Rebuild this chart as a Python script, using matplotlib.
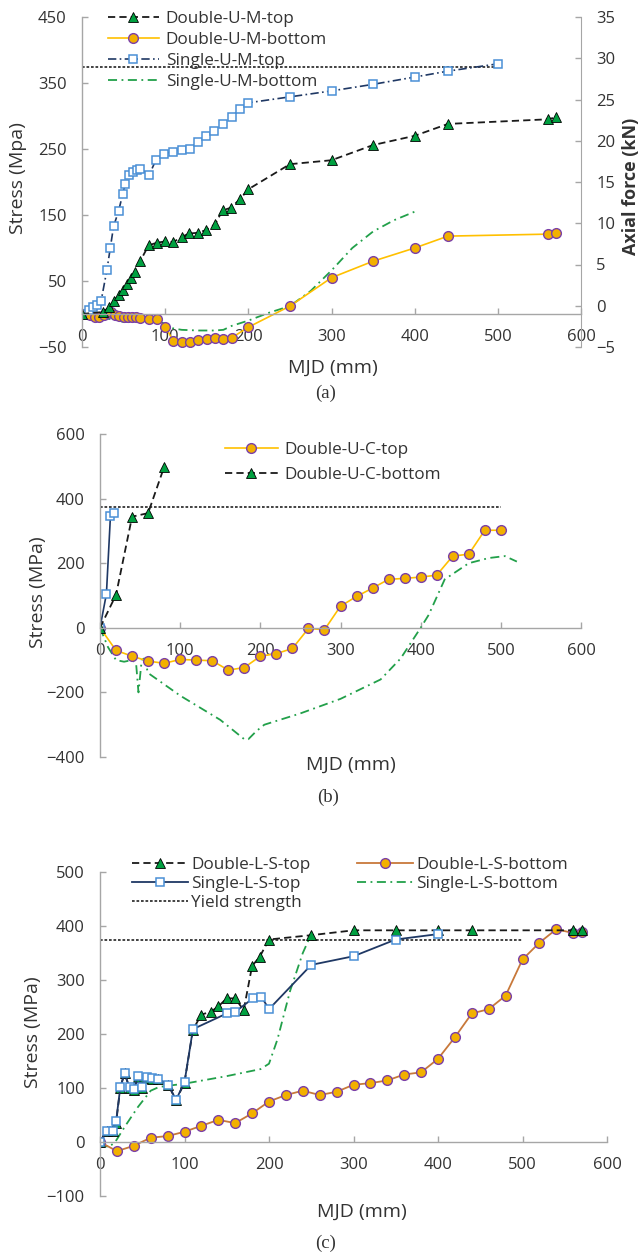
import matplotlib
matplotlib.use("Agg")
import matplotlib.pyplot as plt
from matplotlib.lines import Line2D

plt.rcParams["font.family"] = ["Open Sans", "DejaVu Sans"]

# ---------------- data, panel (a) ----------------
a_dt_x = [0, 25, 33, 38, 44, 49, 54, 59, 64, 70, 80, 90, 100, 110, 120, 129, 139, 149, 160, 169, 179, 190, 200,
          250, 300, 350, 400, 440, 560, 570]
a_dt_y = [0, 3, 10, 19, 29, 37, 45, 54, 64, 80, 104, 108, 110, 109, 117, 122, 123, 127, 136, 157, 161, 174, 189,
          227, 233, 256, 270, 288, 295, 298]

a_db_x = [0, 10, 16, 21, 26, 31, 35, 40, 45, 50, 55, 60, 65, 70, 81, 90, 100, 110, 120, 130, 140, 150, 160, 170,
          180, 200, 250, 300, 350, 400, 440, 560, 570]
a_db_y = [0, -2, -4, -5, -2, 1, 3, -1, -3, -4, -5, -5, -5, -6, -8, -8, -19, -41, -43, -43, -40, -38, -37, -38,
          -36, -20, 12, 55, 80, 100, 118, 121, 122]

a_st_x = [0, 8, 13, 18, 23, 30, 34, 38, 44, 49, 52, 56, 61, 66, 70, 81, 89, 99, 109, 120, 130, 139, 149, 159,
          170, 180, 190, 200, 250, 300, 350, 400, 440, 500]
a_st_y = [0, 6, 10, 14, 20, 67, 100, 133, 156, 182, 197, 210, 215, 218, 220, 211, 234, 243, 246, 249, 250, 261,
          269, 278, 288, 299, 310, 320, 329, 338, 348, 359, 368, 379]

a_sb_x = [0, 10, 20, 30, 40, 50, 60, 70, 80, 90, 100, 110, 120, 140, 160, 170, 180, 200, 225, 250, 275, 300, 325,
          350, 375, 400]
a_sb_y = [0, -3, -5, -7, -9, -12, -12, -10, -9, -10, -15, -22, -24, -25, -25, -24, -18, -10, 2, 12, 35, 66, 100,
          125, 142, 155]

# ---------------- data, panel (b) ----------------
b_top_x = [0, 20, 40, 60, 80, 100, 120, 140, 160, 180, 200, 220, 240, 260, 280, 300, 320, 340, 360, 380, 400,
           420, 440, 460, 480, 500]
b_top_y = [0, -70, -88, -103, -110, -98, -100, -102, -131, -123, -88, -80, -64, -2, -6, 67, 97, 123, 150, 153,
           157, 163, 222, 228, 302, 302]

b_bot_x = [0, 20, 40, 60, 80]
b_bot_y = [0, 102, 344, 355, 498]

b_single_x = [0, 8, 13, 17]
b_single_y = [0, 105, 345, 355]

b_green_x = [0, 10, 20, 30, 40, 45, 48, 52, 55, 60, 100, 150, 180, 185, 195, 205, 250, 300, 350, 375, 400, 410,
             430, 460, 485, 505, 520]
b_green_y = [0, -60, -100, -105, -100, -110, -200, -100, -95, -140, -210, -285, -345, -345, -320, -300, -265,
             -220, -160, -95, 0, 40, 150, 200, 216, 222, 205]

# ---------------- data, panel (c) ----------------
c_dt_x = [0, 8, 15, 19, 24, 29, 35, 40, 45, 50, 56, 62, 69, 81, 90, 100, 110, 120, 131, 140, 150, 160, 170, 180,
          189, 200, 250, 300, 350, 400, 440, 560, 570]
c_dt_y = [0, 20, 20, 35, 100, 127, 100, 97, 120, 100, 118, 117, 116, 105, 77, 110, 208, 236, 241, 251, 266, 266,
          244, 326, 343, 375, 383, 392, 392, 392, 392, 392, 392]

c_st_x = [0, 8, 15, 19, 24, 29, 35, 40, 45, 50, 56, 62, 69, 81, 90, 100, 110, 150, 160, 181, 191, 200, 250, 300,
          350, 400]
c_st_y = [0, 21, 21, 38, 101, 128, 101, 98, 122, 101, 120, 119, 117, 106, 78, 111, 209, 238, 241, 266, 269, 246,
          328, 344, 375, 385]

c_db_x = [0, 20, 40, 60, 80, 100, 120, 140, 160, 180, 200, 220, 240, 260, 280, 300, 320, 340, 360, 380, 400, 420,
          440, 460, 480, 500, 520, 540, 560, 570]
c_db_y = [0, -17, -7, 8, 11, 19, 30, 41, 35, 53, 75, 87, 95, 87, 93, 106, 109, 114, 125, 129, 154, 194, 238, 246,
          271, 338, 369, 394, 387, 388]

c_sb_x = [0, 10, 18, 30, 45, 60, 70, 100, 150, 190, 200, 210, 225, 240, 250]
c_sb_y = [0, -10, 0, 30, 65, 95, 102, 108, 122, 135, 145, 190, 280, 350, 385]

yield_x = [0, 500]
yield_y = [375, 375]

# ---------------- styles ----------------
GRAY = "#a6a6a6"
TXT = "#333333"
GREEN_TRI = "#00a040"
ORANGE = "#f2b000"
PURPLE = "#7a3fa8"
LIGHT_OR = "#ffc000"
BROWN = "#c8783a"
BLUE_SQ = "#4a8fd6"
NAVY = "#1f3864"
GREEN_LN = "#22a04a"
TICK_FS = 12
LEG_FS = 12.3
LAB_FS = 14

dash_black = dict(color="#1a1a1a", lw=1.3, ls=(0, (4, 2.3)))
dash_navy = (0, (5, 2, 1, 2))
dash_green = (0, (5, 2.5, 1, 2.5))
dot_yield = dict(color="#222222", lw=1.2, ls=(0, (1.6, 1.1)))

tri = dict(marker="^", ms=6.5, mfc=GREEN_TRI, mec="black", mew=0.6)
circ = dict(marker="o", ms=7, mfc=ORANGE, mec=PURPLE, mew=1.0)
sq = dict(marker="s", ms=6.3, mfc="white", mec=BLUE_SQ, mew=1.1)

W, H = 643, 1255
fig = plt.figure(figsize=(W / 100, H / 100), dpi=100)


def axes_px(left, right, top, bottom):
    return fig.add_axes([left / W, 1 - bottom / H, (right - left) / W, (bottom - top) / H])


def label_px(x, y, text, rot=0, **kw):
    fig.text(x / W, 1 - y / H, text, rotation=rot, rotation_mode="anchor", ha="center", va="center",
             color=TXT, **kw)


def style(ax, xticks, yticks):
    ax.spines["top"].set_visible(False)
    ax.spines["right"].set_visible(False)
    ax.spines["bottom"].set_position(("data", 0))
    for s in ("left", "bottom"):
        ax.spines[s].set_color(GRAY)
        ax.spines[s].set_linewidth(1.0)
    ax.set_xticks(xticks)
    ax.set_yticks(yticks)
    ax.tick_params(direction="in", length=4, width=1, color=GRAY, labelcolor=TXT, labelsize=TICK_FS, pad=11)


# ---------------- (a) ----------------
ax = axes_px(82, 581, 17, 347)
ax.plot(yield_x, yield_y, **dot_yield)
ax.plot(a_sb_x, a_sb_y, color=GREEN_LN, lw=1.3, ls=dash_green)
ax.plot(a_db_x, a_db_y, color=LIGHT_OR, lw=1.2, **circ)
ax.plot(a_st_x, a_st_y, color=NAVY, lw=1.2, ls=dash_navy, **sq)
ax.plot(a_dt_x, a_dt_y, **dash_black, **tri)
ax.set_xlim(0, 600)
ax.set_ylim(-50, 450)
style(ax, range(0, 601, 100), range(-50, 451, 100))

ax2 = ax.twinx()
ax2.set_ylim(-5, 35)
ax2.set_yticks(range(-5, 36, 5))
for s in ("top", "left", "bottom"):
    ax2.spines[s].set_visible(False)
ax2.spines["right"].set_color(GRAY)
ax2.tick_params(direction="in", length=4, width=1, color=GRAY, labelcolor=TXT, labelsize=TICK_FS, pad=11)

label_px(18, 178, "Stress (Mpa)", rot=90, fontsize=LAB_FS)
label_px(631, 186, "Axial force (kN)", rot=90, fontsize=LAB_FS - 1, fontweight="bold")
label_px(333, 368, "MJD (mm)", fontsize=LAB_FS)

hand_a = [Line2D([], [], **dash_black, **tri),
          Line2D([], [], color=LIGHT_OR, lw=1.2, **circ),
          Line2D([], [], color=NAVY, lw=1.2, ls=dash_navy, **sq),
          Line2D([], [], color=GREEN_LN, lw=1.3, ls=dash_green)]
lab_a = ["Double-U-M-top", "Double-U-M-bottom", "Single-U-M-top", "Single-U-M-bottom"]
fig.legend(hand_a, lab_a, loc="upper left", bbox_to_anchor=(99 / W, 1 - 2 / H), frameon=False,
           fontsize=LEG_FS, handlelength=3.0, handletextpad=0.4, labelspacing=0.3, borderpad=0,
           labelcolor=TXT)
label_px(326, 393, "(a)", family="Liberation Serif", fontsize=13.5)

# ---------------- (b) ----------------
bx = axes_px(100, 581, 434, 757)
bx.plot(yield_x, yield_y, **dot_yield)
bx.plot(b_green_x, b_green_y, color=GREEN_LN, lw=1.3, ls=dash_green)
bx.plot(b_top_x, b_top_y, color=LIGHT_OR, lw=1.2, **circ)
bx.plot(b_single_x, b_single_y, color=NAVY, lw=1.2, **sq)
bx.plot(b_bot_x, b_bot_y, **dash_black, **tri)
bx.set_xlim(0, 600)
bx.set_ylim(-400, 600)
style(bx, range(0, 601, 100), range(-400, 601, 200))
label_px(38, 592, "Stress (MPa)", rot=90, fontsize=LAB_FS)
label_px(351, 765, "MJD (mm)", fontsize=LAB_FS)

hand_b = [Line2D([], [], color=LIGHT_OR, lw=1.2, **circ),
          Line2D([], [], **dash_black, **tri)]
fig.legend(hand_b, ["Double-U-C-top", "Double-U-C-bottom"], loc="upper left",
           bbox_to_anchor=(216 / W, 1 - 433 / H), frameon=False, fontsize=LEG_FS,
           handlelength=3.1, handletextpad=0.4, labelspacing=0.55, borderpad=0, labelcolor=TXT)
label_px(328, 797, "(b)", family="Liberation Serif", fontsize=13.5)

# ---------------- (c) ----------------
cx = axes_px(100, 607, 872, 1196)
cx.plot(yield_x, yield_y, **dot_yield)
cx.plot(c_sb_x, c_sb_y, color=GREEN_LN, lw=1.3, ls=dash_green)
cx.plot(c_db_x, c_db_y, color=BROWN, lw=1.3, **circ)
cx.plot(c_dt_x, c_dt_y, **dash_black, **tri)
cx.plot(c_st_x, c_st_y, color=NAVY, lw=1.3, **sq)
cx.set_xlim(0, 600)
cx.set_ylim(-100, 500)
style(cx, range(0, 601, 100), range(-100, 501, 100))
label_px(33, 1032, "Stress (MPa)", rot=90, fontsize=LAB_FS)
label_px(362, 1212, "MJD (mm)", fontsize=LAB_FS)

hand_c = [Line2D([], [], **dash_black, **tri),
          Line2D([], [], color=NAVY, lw=1.3, **sq),
          Line2D([], [], **dot_yield),
          Line2D([], [], color=BROWN, lw=1.3, **circ),
          Line2D([], [], color=GREEN_LN, lw=1.3, ls=dash_green)]
lab_c = ["Double-L-S-top", "Single-L-S-top", "Yield strength", "Double-L-S-bottom", "Single-L-S-bottom"]
fig.legend(hand_c, lab_c, loc="upper left", bbox_to_anchor=(123 / W, 1 - 848 / H), frameon=False, ncol=2,
           fontsize=LEG_FS, handlelength=3.3, handletextpad=0.2, labelspacing=0.2, columnspacing=2.7,
           borderpad=0, labelcolor=TXT)
label_px(326, 1243, "(c)", family="Liberation Serif", fontsize=13.5)

fig.savefig("out.png", dpi=100)
